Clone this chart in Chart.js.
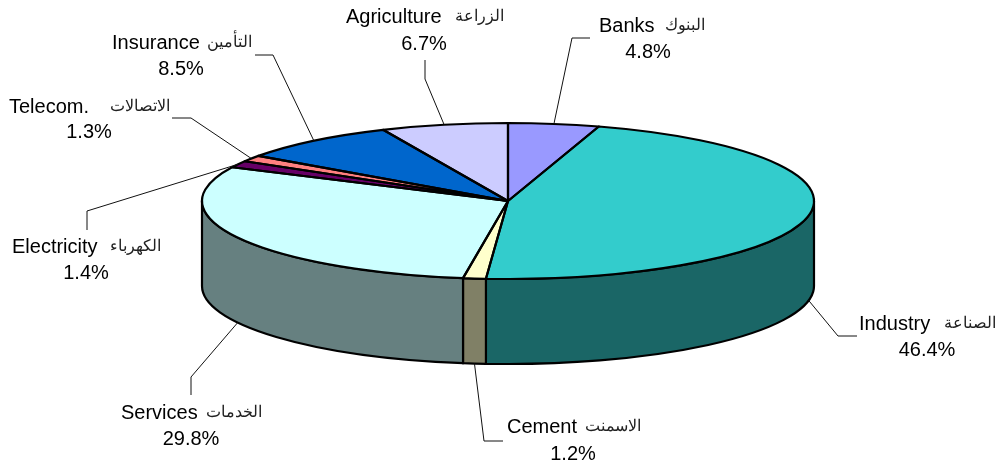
<!DOCTYPE html>
<html>
<head>
<meta charset="utf-8">
<style>
  html,body{margin:0;padding:0;background:#fff;}
  canvas{display:block;}
</style>
<script src="https://cdn.jsdelivr.net/npm/chart.js@4"></script>
</head>
<body>
<canvas id="pie" width="1000" height="466"></canvas>
<script>
const categories = ['Banks','Industry','Cement','Services','Electricity','Telecom.','Insurance','Agriculture'];
const categoriesAr = ['البنوك','الصناعة','الاسمنت','الخدمات','الكهرباء','الاتصالات','التأمين','الزراعة'];
const shares = [4.8,46.4,1.2,29.8,1.4,1.3,8.5,6.7];

const topColors = ['#9999FF','#33CCCC','#FFFFCC','#CCFFFF','#660066','#FF8080','#0066CC','#CCCCFF'];
const wallColors = ['#4D4D80','#1A6666','#808066','#668080','#330033','#804040','#003366','#666680'];

const CX = 508, CY = 201, RX = 306, RY = 78, DEPTH = 85;

// elbow + end of each leader, then english left, arabic right, percent center, the two baselines
const labelSpots = [
  {elbow:[572,38], end:[590,38], en:599, ar:705, pct:648, y1:32, y2:58},
  {elbow:[838,336], end:[857,336], en:859, ar:996, pct:927, y1:330, y2:356},
  {elbow:[484,441], end:[503,441], en:507, ar:641, pct:573, y1:433, y2:460},
  {elbow:[191,377], end:[191,395], en:121, ar:262, pct:191, y1:419, y2:445},
  {elbow:[87,211], end:[87,230], en:12, ar:161, pct:86, y1:253, y2:279},
  {elbow:[191,118], end:[172,118], en:9, ar:170, pct:89, y1:113, y2:138},
  {elbow:[273,55], end:[255,55], en:112, ar:252, pct:181, y1:49, y2:75},
  {elbow:[425,79], end:[425,60], en:346, ar:504, pct:424, y1:23, y2:50}
];

function drawWalls(ctx,arcs){
  arcs.forEach((arc,i)=>{
    const a0 = Math.max(arc.startAngle,0);
    const a1 = Math.min(arc.endAngle,Math.PI);
    if(a1<=a0){return;}
    ctx.beginPath();
    ctx.ellipse(arc.x,arc.y,RX,RY,0,a0,a1);
    ctx.ellipse(arc.x,arc.y+DEPTH,RX,RY,0,a1,a0,true);
    ctx.closePath();
    ctx.fillStyle = wallColors[i];
    ctx.fill();
    ctx.strokeStyle = '#000';
    ctx.lineWidth = 2.2;
    ctx.stroke();
  });
}

function drawOutlines(ctx,arcs){
  ctx.strokeStyle = '#000';
  ctx.lineWidth = 2.2;
  ctx.lineJoin = 'round';
  arcs.forEach((arc)=>{
    ctx.beginPath();
    ctx.moveTo(arc.x,arc.y);
    ctx.ellipse(arc.x,arc.y,RX,RY,0,arc.startAngle,arc.endAngle);
    ctx.closePath();
    ctx.stroke();
  });
}

function drawLabels(ctx,arcs){
  arcs.forEach((arc,i)=>{
    const spot = labelSpots[i];
    const mid = (arc.startAngle+arc.endAngle)/2;
    const front = Math.sin(mid)>0 ? DEPTH : 0;
    ctx.beginPath();
    ctx.moveTo(arc.x+RX*Math.cos(mid),arc.y+RY*Math.sin(mid)+front);
    ctx.lineTo(spot.elbow[0],spot.elbow[1]);
    ctx.lineTo(spot.end[0],spot.end[1]);
    ctx.strokeStyle = '#111';
    ctx.lineWidth = 1;
    ctx.stroke();

    ctx.fillStyle = '#000';
    ctx.textBaseline = 'alphabetic';
    ctx.font = '20px "Liberation Sans", Arial, sans-serif';
    ctx.textAlign = 'left';
    ctx.fillText(categories[i],spot.en,spot.y1);
    ctx.textAlign = 'center';
    ctx.fillText(shares[i].toFixed(1)+'%',spot.pct,spot.y2);
    ctx.font = '16px "Liberation Sans", Arial, sans-serif';
    ctx.textAlign = 'right';
    ctx.fillStyle = '#222';
    ctx.fillText(categoriesAr[i],spot.ar,spot.y1-2);
  });
}

// squash the flat pie into an ellipse and put the wall under it
const pie3d = {
  id:'pie3d',
  beforeDatasetsDraw(chart){
    const ctx = chart.ctx;
    const arcs = chart.getDatasetMeta(0).data;
    drawWalls(ctx,arcs);
    ctx.save();
    ctx.translate(CX,CY);
    ctx.scale(1,RY/RX);
    ctx.translate(-CX,-CY);
  },
  afterDatasetsDraw(chart){
    const ctx = chart.ctx;
    const arcs = chart.getDatasetMeta(0).data;
    ctx.restore();
    drawOutlines(ctx,arcs);
    drawLabels(ctx,arcs);
  }
};

new Chart(document.getElementById('pie').getContext('2d'),{
  type:'pie',
  data:{
    labels:categories,
    datasets:[{
      data:shares,
      backgroundColor:topColors,
      borderWidth:0,
      radius:RX,
      clip:false
    }]
  },
  options:{
    responsive:false,
    animation:false,
    events:[],
    layout:{padding:{left:16,right:0,top:0,bottom:64}},
    plugins:{
      legend:{display:false},
      tooltip:{enabled:false}
    }
  },
  plugins:[pie3d]
});
</script>
</body>
</html>
